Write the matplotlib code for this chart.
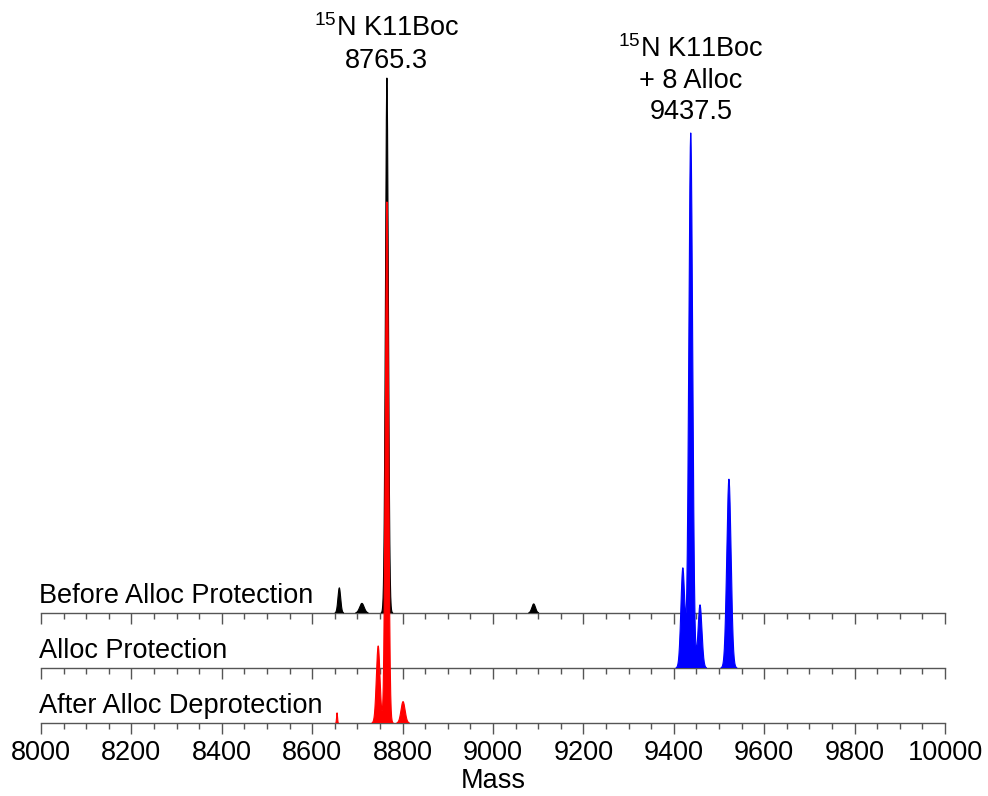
import numpy as np
import matplotlib
matplotlib.use("Agg")
import matplotlib.pyplot as plt
from matplotlib.ticker import MultipleLocator

plt.rcParams['font.family'] = ['Liberation Sans', 'DejaVu Sans']
plt.rcParams['mathtext.fontset'] = 'custom'
plt.rcParams['mathtext.rm'] = 'Liberation Sans'

# ---- data (relative intensity, % of main peak) ----
trace_labels = ["Before Alloc Protection", "Alloc Protection", "After Alloc Deprotection"]
trace_colors = ["black", "#0000ff", "#ff0000"]

before_centers = [8660, 8710, 8765.3, 9090]
before_heights = [4.7, 1.8, 100.0, 1.7]
before_widths = [3.0, 5.0, 3.2, 4.0]

alloc_centers = [9420, 9437.5, 9458, 9522]
alloc_heights = [18.7, 100.0, 11.8, 35.3]
alloc_widths = [4.3, 4.3, 4.3, 4.8]

after_centers = [8655, 8746, 8765.3, 8801]
after_heights = [1.9, 14.4, 97.4, 4.0]
after_widths = [1.0, 4.0, 3.5, 4.5]

ann1 = "$^{15}$N K11Boc\n8765.3"
ann1_x = 8765.3
ann2 = "$^{15}$N K11Boc\n+ 8 Alloc\n9437.5"
ann2_x = 9437.5

xmin, xmax = 8000, 10000

peaks = [
    (before_centers, before_heights, before_widths),
    (alloc_centers, alloc_heights, alloc_widths),
    (after_centers, after_heights, after_widths),
]

W, H = 988, 796
fig = plt.figure(figsize=(W / 100, H / 100), dpi=100)

x_left, x_right = 41, 945
baselines = [613, 668, 723]
top_px = 40
px_per_unit = 535 / 100.0

mass = np.linspace(xmin, xmax, 8001)
axes = []
for i, (cen, hei, wid) in enumerate(peaks):
    b = baselines[i]
    ax = fig.add_axes([x_left / W, 1 - b / H, (x_right - x_left) / W, (b - top_px) / H])
    ax.patch.set_alpha(0)
    y = np.zeros_like(mass)
    for c, h, w in zip(cen, hei, wid):
        y = y + h * np.exp(-0.5 * ((mass - c) / w) ** 2)
    ax.fill_between(mass, 0, y, where=y > 0.05, color=trace_colors[i], lw=0, clip_on=False, zorder=3)
    ym = np.where(y > 0.05, y, np.nan)
    ax.plot(mass, ym, color=trace_colors[i], lw=0.8, clip_on=False, zorder=3)
    ax.set_xlim(xmin, xmax)
    ax.set_ylim(0, (b - top_px) / px_per_unit)
    for s in ['top', 'right', 'left']:
        ax.spines[s].set_visible(False)
    ax.spines['bottom'].set_color('#555555')
    ax.spines['bottom'].set_linewidth(1.0)
    ax.set_yticks([])
    ax.xaxis.set_major_locator(MultipleLocator(200))
    ax.xaxis.set_minor_locator(MultipleLocator(50))
    ax.tick_params(axis='x', which='major', direction='out', length=8, width=1.0, color='#555555',
                   labelsize=19.5, pad=4)
    ax.tick_params(axis='x', which='minor', direction='out', length=4, width=1.0, color='#555555')
    if i < 2:
        ax.tick_params(axis='x', labelbottom=False)
    ax.text(8000 - 5, 10 / px_per_unit, trace_labels[i], fontsize=19.5, ha='left', va='baseline', zorder=2)
    axes.append(ax)

axes[2].set_xlabel("Mass", fontsize=19.5, labelpad=2)

axes[0].annotate(ann1, xy=(ann1_x, 100), xytext=(0, 3), textcoords='offset points',
                 ha='center', va='bottom', fontsize=19.5, linespacing=1.3)
axes[1].annotate(ann2, xy=(ann2_x, 100), xytext=(0, 6), textcoords='offset points',
                 ha='center', va='bottom', fontsize=19.5, linespacing=1.25)

fig.savefig("out.png", dpi=100)
